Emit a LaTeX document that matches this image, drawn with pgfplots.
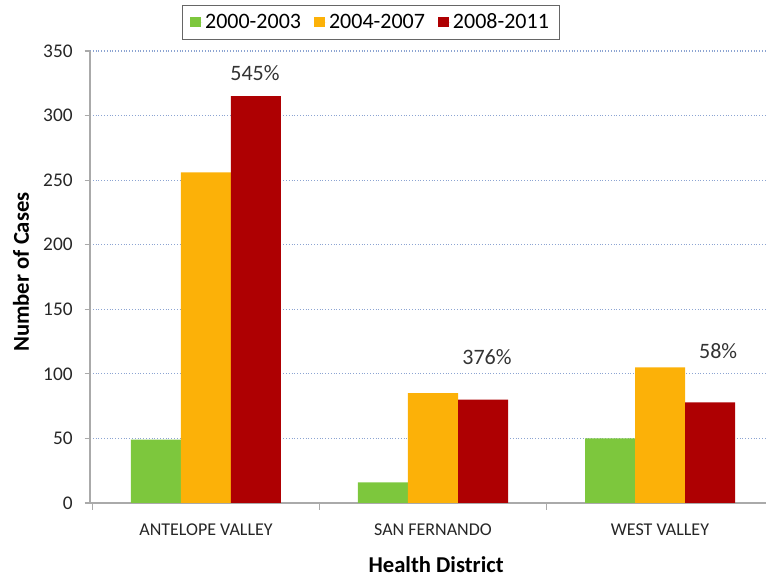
\documentclass[border=0pt]{standalone}
\usepackage{fontspec}
\setmainfont{Carlito}
\usepackage{pgfplots}
\pgfplotsset{compat=1.18}

\definecolor{cgreen}{RGB}{125,199,61}
\definecolor{corange}{RGB}{252,177,8}
\definecolor{cred}{RGB}{174,0,2}
\definecolor{cgrid}{RGB}{140,164,210}
\definecolor{caxis}{RGB}{170,170,170}

\begin{document}
\begin{tikzpicture}
\useasboundingbox (-67.5pt,-55.5pt) rectangle (507pt,377.25pt);
\begin{axis}[
    scale only axis,
    width=507pt, height=339pt,
    ybar=0pt, bar width=37.5pt,
    xmin=-0.511, xmax=2.467,
    ymin=0, ymax=350,
    xtick={0,1,2},
    xticklabels={ANTELOPE VALLEY, SAN FERNANDO, WEST VALLEY},
    minor xtick={-0.5,0.5,1.5},
    ytick={0,50,...,350},
    axis lines*=left,
    axis line style={caxis, line width=0.8pt},
    major x tick style={draw=none},
    minor x tick style={caxis, line width=0.8pt},
    y tick style={caxis, line width=0.8pt},
    tick align=outside,
    major tick length=4pt, minor tick length=5pt,
    ymajorgrids=true,
    grid style={cgrid, line width=0.8pt, dash pattern=on 0.8pt off 1.3pt},
    /pgf/number format/assume math mode=true,
    yticklabel style={font=\fontsize{14.5}{17}\selectfont, color=black!85, xshift=-5.5pt},
    xticklabel style={font=\fontsize{13.5}{16}\selectfont, color=black!85, yshift=-8pt},
    ylabel={\textbf{Number of Cases}},
    xlabel={\textbf{Health District}},
    every axis y label/.style={at={(axis description cs:-0.102,0.511)}, rotate=90, anchor=center, font=\fontsize{17}{20}\selectfont},
    every axis x label/.style={at={(axis description cs:0.512,-0.137)}, anchor=center, font=\fontsize{17}{20}\selectfont},
    legend columns=-1,
    legend style={at={(axis description cs:0.4157,1.0243)}, anchor=south,
        draw=black!60, line width=0.8pt, font=\fontsize{16.5}{19}\selectfont,
        inner xsep=6pt, inner ysep=4.5pt,
        /tikz/every even column/.append style={column sep=8pt}},
    legend image code/.code={\fill[#1] (0pt,-3.8pt) rectangle (7.8pt,4pt); \path (0pt,0pt) -- (9pt,0pt);},
]
\addplot[draw=none, fill=cgreen] coordinates {(0,49) (1,16) (2,50)};
\addplot[draw=none, fill=corange] coordinates {(0,256) (1,85) (2,105)};
\addplot[draw=none, fill=cred] coordinates {(0,315) (1,80) (2,78)};
\legend{2000-2003, 2004-2007, 2008-2011}

\node[font=\fontsize{16.5}{19}\selectfont, color=black!80] at (axis cs:0.216,333) {545\%};
\node[font=\fontsize{16.5}{19}\selectfont, color=black!80] at (axis cs:1.238,113) {376\%};
\node[font=\fontsize{16.5}{19}\selectfont, color=black!80] at (axis cs:2.256,118) {58\%};
\end{axis}
\end{tikzpicture}
\end{document}
